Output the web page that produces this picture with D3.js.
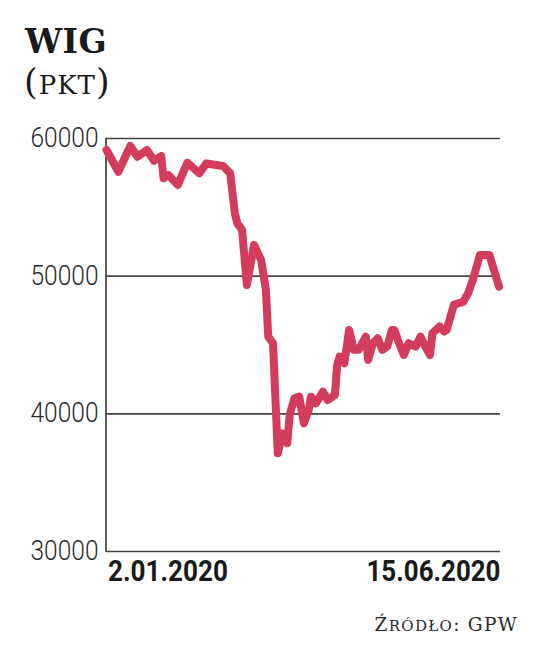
<!DOCTYPE html>
<html>
<head>
<meta charset="utf-8">
<script src="https://cdn.jsdelivr.net/npm/d3@7"></script>
<style>
  body { margin: 0; background: #fff; }
  svg { display: block; }
  .serif { font-family: "DejaVu Serif", "Liberation Serif", serif; }
</style>
</head>
<body>
<div id="chart"></div>
<script>
// WIG index (points)
const dates = [
  "2020-01-02", "2020-01-07", "2020-01-12", "2020-01-15", "2020-01-19", "2020-01-22",
  "2020-01-25", "2020-01-26", "2020-01-28", "2020-02-01", "2020-02-05", "2020-02-10",
  "2020-02-13", "2020-02-17", "2020-02-20", "2020-02-23", "2020-02-25", "2020-02-26",
  "2020-02-28", "2020-03-01", "2020-03-04", "2020-03-06", "2020-03-07", "2020-03-09",
  "2020-03-10", "2020-03-12", "2020-03-14", "2020-03-16", "2020-03-18", "2020-03-19",
  "2020-03-21", "2020-03-23", "2020-03-25", "2020-03-27", "2020-03-28", "2020-03-30",
  "2020-04-02", "2020-04-04", "2020-04-07", "2020-04-08", "2020-04-09", "2020-04-11",
  "2020-04-13", "2020-04-15", "2020-04-17", "2020-04-20", "2020-04-21", "2020-04-23",
  "2020-04-25", "2020-04-27", "2020-04-29", "2020-05-01", "2020-05-02", "2020-05-04",
  "2020-05-06", "2020-05-08", "2020-05-11", "2020-05-13", "2020-05-15", "2020-05-17",
  "2020-05-18", "2020-05-21", "2020-05-23", "2020-05-24", "2020-05-27", "2020-05-29",
  "2020-05-31", "2020-06-02", "2020-06-04", "2020-06-07", "2020-06-09", "2020-06-11",
  "2020-06-15"
];
const values = [
  59130, 57550, 59420, 58640, 59130, 58350,
  58690, 57070, 57310, 56590, 58210, 57430,
  58160, 58040, 57970, 57430, 54500, 53800,
  53320, 49320, 52230, 51500, 51140, 48960,
  45570, 45090, 37100, 38550, 37830, 39880,
  41100, 41210, 39280, 40250, 41210, 40730,
  41570, 40970, 41340, 43520, 44120, 43640,
  46060, 44610, 44610, 45570, 43880, 45090,
  45450, 44610, 44850, 46060, 46060, 45090,
  44240, 45090, 44850, 45570, 44850, 44240,
  45820, 46300, 45940, 46060, 47880, 48000,
  48110, 48720, 49690, 51500, 51500, 51500,
  49200
];
const yTicks = [30000, 40000, 50000, 60000];
const xTicks = ["2020-01-02", "2020-06-15"];

const parse = d3.timeParse("%Y-%m-%d");
const data = dates.map((d, i) => ({ date: parse(d), value: values[i] }));

const width = 536, height = 668;
const plotLeft = 105.5, plotRight = 500, plotTop = 138, plotBottom = 551;

const svg = d3.select("#chart").append("svg")
  .attr("width", width)
  .attr("height", height);

svg.append("rect").attr("width", width).attr("height", height).attr("fill", "#fff");

const x = d3.scaleTime()
  .domain([parse(xTicks[0]), parse(xTicks[1])])
  .range([plotLeft + 1, plotRight - 1]);

const y = d3.scaleLinear()
  .domain([30000, 60000])
  .range([plotBottom, plotTop]);

// Title
const title = svg.append("g").attr("class", "serif").attr("fill", "#1a1a1a");
title.append("text")
  .attr("x", 25).attr("y", 53)
  .attr("font-size", 33).attr("font-weight", "bold")
  .attr("letter-spacing", 0.5)
  .text("WIG");
const unit = title.append("text").attr("x", 24).attr("y", 94).attr("letter-spacing", 1);
unit.append("tspan").attr("font-size", 35).text("(");
unit.append("tspan").attr("font-size", 26).text("PKT");
unit.append("tspan").attr("font-size", 35).text(")");

// Y axis with gridlines
const yAxis = svg.append("g")
  .attr("transform", `translate(${plotLeft},0)`)
  .call(d3.axisLeft(y)
    .tickValues(yTicks)
    .tickFormat(d3.format("d"))
    .tickSizeInner(-(plotRight - plotLeft))
    .tickSizeOuter(0)
    .tickPadding(7));

yAxis.select(".domain").attr("stroke", "#333").attr("stroke-width", 1.6);
yAxis.selectAll(".tick line").attr("stroke", "#444").attr("stroke-width", 1.6);
yAxis.selectAll(".tick text")
  .attr("font-family", "Roboto, sans-serif")
  .attr("font-weight", 300)
  .attr("font-size", 27)
  .attr("fill", "#2b2b2b")
  .attr("textLength", 68)
  .attr("lengthAdjust", "spacingAndGlyphs");

// X axis labels (first and last date)
const xAxis = svg.append("g")
  .attr("transform", `translate(0,${plotBottom})`)
  .call(d3.axisBottom(x)
    .tickValues(xTicks.map(parse))
    .tickFormat(d3.timeFormat("%-d.%m.%Y"))
    .tickSize(0)
    .tickPadding(9));

xAxis.select(".domain").remove();
xAxis.selectAll(".tick text")
  .attr("font-family", "Roboto, sans-serif")
  .attr("font-weight", "bold")
  .attr("font-size", 29)
  .attr("fill", "#1a1a1a")
  .attr("text-anchor", (d, i) => i === 0 ? "start" : "end")
  .attr("dx", 1)
  .attr("textLength", (d, i) => i === 0 ? 120 : 134)
  .attr("lengthAdjust", "spacingAndGlyphs");

// Line
const line = d3.line()
  .x(d => x(d.date))
  .y(d => y(d.value));

svg.append("path")
  .datum(data)
  .attr("d", line)
  .attr("fill", "none")
  .attr("stroke", "#d43c5b")
  .attr("stroke-width", 8)
  .attr("stroke-linejoin", "round")
  .attr("stroke-linecap", "round");

// Source
const src = svg.append("text")
  .attr("class", "serif")
  .attr("x", 518).attr("y", 631)
  .attr("text-anchor", "end")
  .attr("letter-spacing", 1.3)
  .attr("fill", "#2b2b2b");
src.append("tspan").attr("font-size", 18.5).text("Ź");
src.append("tspan").attr("font-size", 15).text("RÓDŁO");
src.append("tspan").attr("font-size", 18.5).text(": GPW");
</script>
</body>
</html>
